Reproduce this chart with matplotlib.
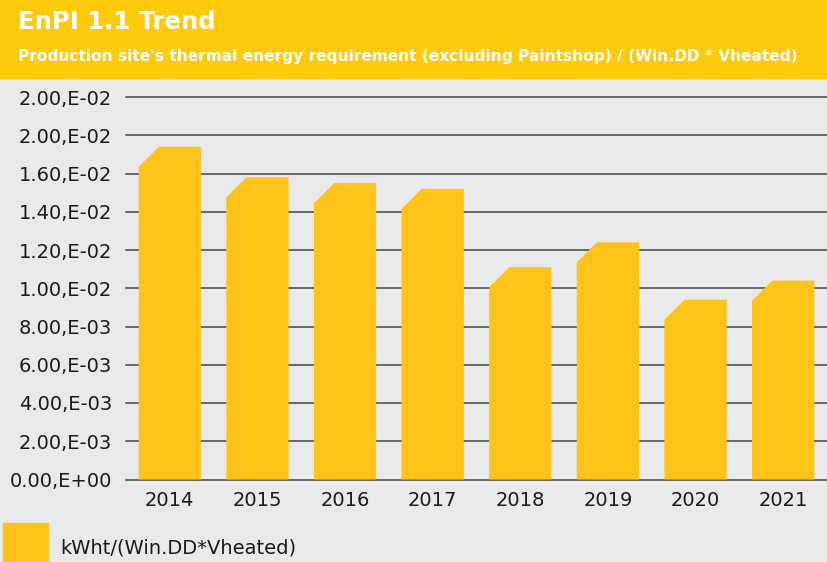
import matplotlib
matplotlib.use("Agg")
import matplotlib.pyplot as plt
from matplotlib.patches import Rectangle

years = ["2014", "2015", "2016", "2017", "2018", "2019", "2020", "2021"]
values = [0.0174, 0.0158, 0.0155, 0.0152, 0.0111, 0.0124, 0.0094, 0.0104]
ticks = [0.0, 0.002, 0.004, 0.006, 0.008, 0.010, 0.012, 0.014, 0.016, 0.018, 0.020]
tick_labels = ["0.00,E+00", "2.00,E-03", "4.00,E-03", "6.00,E-03", "8.00,E-03",
               "1.00,E-02", "1.20,E-02", "1.40,E-02", "1.60,E-02", "2.00,E-02", "2.00,E-02"]

bg = "#E8E9EB"
header_col = "#FFCA0C"
bar_col = "#FDC318"

fig = plt.figure(figsize=(8.27, 5.62), dpi=100, facecolor=bg)

# header band
fig.patches.append(Rectangle((0, 1 - 78 / 562), 1, 78 / 562, transform=fig.transFigure,
                             color=header_col, zorder=0))
fig.text(18 / 827, 1 - 22 / 562, "EnPI 1.1 Trend", color="white", fontsize=17.5,
         fontweight="bold", va="center", ha="left")
fig.text(18 / 827, 1 - 56 / 562,
         "Production site's thermal energy requirement (excluding Paintshop) / (Win.DD * Vheated)",
         color="white", fontsize=11.1, fontweight="bold", va="center", ha="left")

ax = fig.add_axes([126 / 827, 1 - 479.5 / 562, 1 - 126 / 827, (479.5 - 97) / 562])
ax.set_facecolor(bg)
ax.set_xlim(-0.5, len(years) - 0.5)
ax.set_ylim(0, 0.020)

for t in ticks:
    ax.axhline(t, color="#454545", lw=1.1, zorder=1, clip_on=False)

# bars with a chamfered top-left corner
w = 0.71
cx = 0.23    # chamfer width in category units
cy = 0.00105  # chamfer height in data units
for i, v in enumerate(values):
    x0, x1 = i - w / 2, i + w / 2
    ax.fill([x0, x0, x0 + cx, x1, x1], [0, v - cy, v, v, 0],
            color=bar_col, zorder=2, lw=0)

ax.set_yticks(ticks)
ax.set_yticklabels(tick_labels)
ax.set_xticks(range(len(years)))
ax.set_xticklabels(years)
ax.tick_params(axis="both", length=0, labelsize=14, colors="#1a1a1a")
ax.tick_params(axis="y", pad=10)
ax.tick_params(axis="x", pad=8)
for s in ax.spines.values():
    s.set_visible(False)

# legend
fig.patches.append(Rectangle((3 / 827, 0), 45 / 827, 39 / 562, transform=fig.transFigure,
                             color=bar_col, zorder=0))
fig.text(60 / 827, 1 - 548 / 562, "kWht/(Win.DD*Vheated)", color="#1a1a1a",
         fontsize=14, va="center", ha="left")

fig.savefig("out.png", dpi=100, facecolor=bg)
